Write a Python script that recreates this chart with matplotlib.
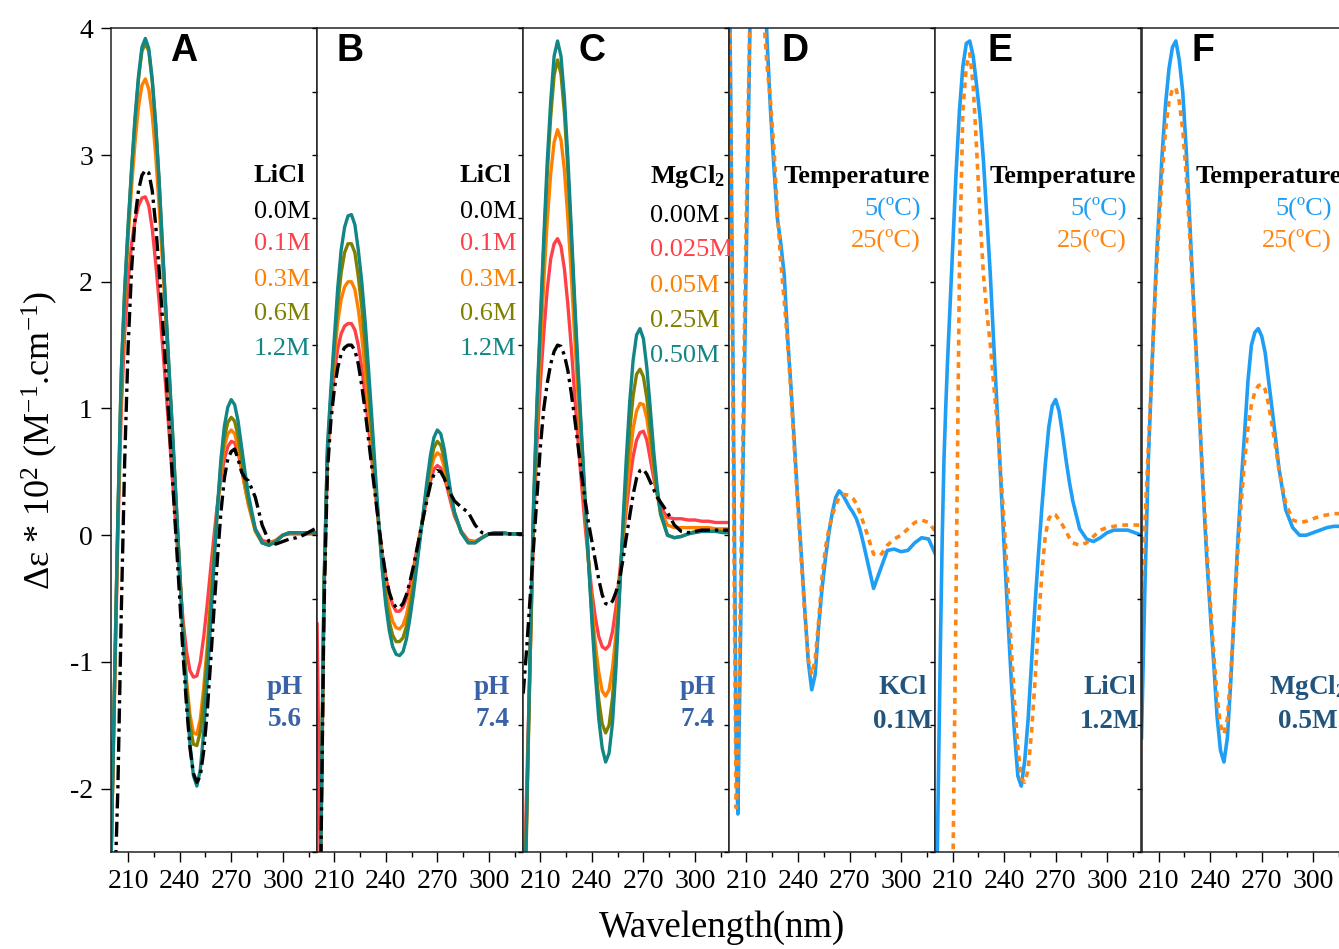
import numpy as np
import matplotlib.pyplot as plt
from matplotlib.ticker import MultipleLocator

plt.rcParams['font.family'] = 'Liberation Serif'
plt.rcParams['mathtext.fontset'] = 'custom'
plt.rcParams['mathtext.rm'] = 'Liberation Serif'
plt.rcParams['mathtext.it'] = 'Liberation Serif:italic'
plt.rcParams['mathtext.bf'] = 'Liberation Serif:bold'
plt.rcParams['axes.unicode_minus'] = False

# wavelength grids (nm)
wl = [200, 202, 204, 206, 208, 210, 212, 214, 216, 218, 220, 222, 224, 226, 228,
      230, 232, 234, 236, 238, 240, 242, 244, 246, 248, 250, 252, 254, 256, 258,
      260, 262, 264, 266, 268, 270, 272, 274, 276, 278, 280,
      284, 288, 292, 296, 300, 304, 308, 312, 316, 320]
wl_t = [200, 201, 202, 203, 204, 205, 206, 207, 208, 209, 210, 211, 212,
        214, 216, 218, 220, 222, 224, 226, 228, 230, 232, 234, 236, 238, 240,
        242, 244, 246, 248, 250, 252, 254, 256, 258, 260, 262, 264, 266, 268,
        270, 272, 274, 276, 278, 280,
        284, 288, 292, 296, 300, 304, 308, 312, 316, 320]

# panel A - LiCl, pH 5.6
a_00 = [-3.5, -2.9, -2.0, -0.6, 0.6, 1.5, 2.1, 2.5, 2.72, 2.84,
        2.88, 2.86, 2.72, 2.45, 2.1, 1.7, 1.28, 0.85, 0.4, -0.05,
        -0.5, -0.95, -1.35, -1.68, -1.88, -1.95, -1.9, -1.7, -1.4, -1.0,
        -0.58, -0.18, 0.18, 0.45, 0.6, 0.66, 0.68, 0.6, 0.5, 0.45,
        0.43, 0.3, 0.08, -0.05, -0.07, -0.05, -0.03, -0.02, 0.0, 0.03, 0.06]
a_01 = [-2.6, -1.3, 0.0, 1.0, 1.6, 2.0, 2.3, 2.48, 2.6, 2.66,
        2.67, 2.6, 2.42, 2.15, 1.85, 1.5, 1.15, 0.78, 0.4, 0.02,
        -0.35, -0.68, -0.92, -1.07, -1.12, -1.11, -1.0, -0.8, -0.55, -0.27,
        0.0, 0.25, 0.45, 0.6, 0.7, 0.74, 0.73, 0.65, 0.52, 0.38,
        0.25, 0.05, -0.04, -0.06, -0.04, 0.0, 0.01, 0.01, 0.01, 0.01, 0.01]
a_03 = [-2.6, -1.25, 0.1, 1.15, 1.85, 2.35, 2.75, 3.1, 3.38, 3.55,
        3.6, 3.52, 3.32, 3.0, 2.6, 2.15, 1.68, 1.2, 0.72, 0.22,
        -0.28, -0.75, -1.15, -1.42, -1.56, -1.57, -1.45, -1.2, -0.88, -0.5,
        -0.12, 0.22, 0.5, 0.7, 0.8, 0.83, 0.8, 0.7, 0.55, 0.38,
        0.24, 0.03, -0.06, -0.07, -0.04, 0.0, 0.02, 0.02, 0.02, 0.02, 0.02]
a_06 = [-2.6, -1.2, 0.15, 1.28, 1.93, 2.43, 2.88, 3.27, 3.6, 3.82,
        3.88, 3.82, 3.58, 3.24, 2.8, 2.26, 1.76, 1.25, 0.76, 0.24,
        -0.28, -0.78, -1.2, -1.5, -1.65, -1.66, -1.55, -1.3, -0.95, -0.55,
        -0.15, 0.22, 0.55, 0.77, 0.89, 0.93, 0.9, 0.78, 0.6, 0.42,
        0.27, 0.04, -0.06, -0.08, -0.05, 0.0, 0.02, 0.02, 0.02, 0.02, 0.02]
a_12 = [-2.6, -1.2, 0.15, 1.3, 1.95, 2.45, 2.9, 3.3, 3.62, 3.85,
        3.92, 3.84, 3.6, 3.25, 2.8, 2.28, 1.77, 1.26, 0.77, 0.25,
        -0.28, -0.8, -1.28, -1.65, -1.9, -1.98, -1.85, -1.55, -1.15, -0.7,
        -0.22, 0.22, 0.6, 0.86, 1.01, 1.07, 1.03, 0.9, 0.7, 0.5,
        0.32, 0.05, -0.06, -0.08, -0.05, 0.0, 0.02, 0.02, 0.02, 0.02, 0.02]

# panel B - LiCl, pH 7.4
b_00 = [-3.0, -2.8, -0.6, 0.5, 0.9, 1.15, 1.32, 1.43, 1.48, 1.5,
        1.5, 1.46, 1.35, 1.18, 0.98, 0.75, 0.52, 0.3, 0.07, -0.14,
        -0.32, -0.45, -0.53, -0.57, -0.57, -0.54, -0.47, -0.37, -0.25, -0.12,
        0.02, 0.15, 0.28, 0.4, 0.48, 0.51, 0.5, 0.45, 0.38, 0.32,
        0.27, 0.22, 0.18, 0.08, 0.02, 0.01, 0.01, 0.01, 0.01, 0.01, 0.01]
b_01 = [-0.7, -2.8, -0.5, 0.6, 1.0, 1.28, 1.47, 1.59, 1.65, 1.67,
        1.67, 1.62, 1.5, 1.32, 1.1, 0.85, 0.58, 0.32, 0.07, -0.15,
        -0.33, -0.46, -0.55, -0.6, -0.6, -0.57, -0.5, -0.4, -0.27, -0.12,
        0.02, 0.16, 0.3, 0.43, 0.52, 0.55, 0.53, 0.46, 0.36, 0.25,
        0.15, 0.03, -0.04, -0.05, -0.02, 0.01, 0.01, 0.01, 0.01, 0.01, 0.01]
b_03 = [-2.9, -2.6, -0.45, 0.62, 1.05, 1.4, 1.68, 1.86, 1.96, 2.0,
        2.0, 1.94, 1.78, 1.57, 1.3, 1.0, 0.68, 0.36, 0.06, -0.2,
        -0.42, -0.58, -0.68, -0.73, -0.74, -0.71, -0.63, -0.5, -0.35, -0.18,
        0.0, 0.17, 0.35, 0.5, 0.61, 0.65, 0.63, 0.54, 0.41, 0.28,
        0.17, 0.02, -0.05, -0.05, -0.02, 0.01, 0.02, 0.02, 0.01, 0.01, 0.01]
b_06 = [-2.9, -2.6, -0.42, 0.66, 1.1, 1.48, 1.82, 2.07, 2.23, 2.3,
        2.3, 2.23, 2.04, 1.8, 1.5, 1.15, 0.78, 0.4, 0.06, -0.26,
        -0.5, -0.68, -0.79, -0.84, -0.84, -0.81, -0.72, -0.58, -0.41, -0.21,
        -0.01, 0.19, 0.39, 0.56, 0.69, 0.74, 0.71, 0.61, 0.46, 0.3,
        0.18, 0.02, -0.06, -0.06, -0.02, 0.01, 0.02, 0.02, 0.01, 0.01, 0.01]
b_12 = [-3.0, -2.6, -0.4, 0.7, 1.15, 1.55, 1.95, 2.25, 2.43, 2.52,
        2.53, 2.45, 2.25, 2.0, 1.68, 1.3, 0.9, 0.48, 0.08, -0.28,
        -0.55, -0.75, -0.88, -0.94, -0.95, -0.92, -0.82, -0.66, -0.47, -0.25,
        -0.03, 0.2, 0.43, 0.63, 0.77, 0.83, 0.8, 0.68, 0.5, 0.32,
        0.18, 0.02, -0.06, -0.06, -0.02, 0.01, 0.02, 0.02, 0.01, 0.01, 0.01]

# panel C - MgCl2, pH 7.4
c_000 = [-1.25, -0.9, -0.5, -0.1, 0.3, 0.7, 1.0, 1.2, 1.35, 1.45,
         1.5, 1.49, 1.42, 1.3, 1.12, 0.92, 0.7, 0.48, 0.28, 0.1,
         -0.05, -0.2, -0.35, -0.47, -0.54, -0.55, -0.52, -0.45, -0.35, -0.2,
         -0.02, 0.15, 0.32, 0.45, 0.51, 0.52, 0.48, 0.42, 0.36, 0.3,
         0.26, 0.18, 0.08, 0.03, 0.02, 0.03, 0.04, 0.04, 0.04, 0.04, 0.04]
c_025 = [-3.0, -2.0, -1.0, 0.05, 0.72, 1.2, 1.6, 1.94, 2.18, 2.3,
         2.34, 2.28, 2.1, 1.82, 1.48, 1.1, 0.74, 0.4, 0.08, -0.2,
         -0.45, -0.65, -0.8, -0.88, -0.9, -0.87, -0.76, -0.57, -0.32, -0.05,
         0.2, 0.43, 0.62, 0.75, 0.81, 0.82, 0.75, 0.6, 0.45, 0.32,
         0.22, 0.14, 0.13, 0.13, 0.12, 0.12, 0.11, 0.11, 0.1, 0.1, 0.1]
c_05 = [-3.3, -2.2, -1.0, 0.15, 0.9, 1.45, 2.0, 2.48, 2.85, 3.1,
        3.2, 3.12, 2.88, 2.5, 2.05, 1.56, 1.08, 0.63, 0.2, -0.2,
        -0.56, -0.86, -1.08, -1.23, -1.27, -1.22, -1.05, -0.78, -0.42, -0.05,
        0.3, 0.6, 0.84, 0.98, 1.04, 1.03, 0.92, 0.73, 0.52, 0.33,
        0.19, 0.08, 0.06, 0.06, 0.06, 0.06, 0.06, 0.06, 0.05, 0.05, 0.05]
c_25 = [-3.5, -2.3, -1.0, 0.2, 1.0, 1.65, 2.28, 2.85, 3.3, 3.63,
        3.75, 3.64, 3.33, 2.88, 2.35, 1.78, 1.24, 0.75, 0.27, -0.2,
        -0.63, -1.0, -1.3, -1.49, -1.56, -1.5, -1.28, -0.92, -0.46, 0.02,
        0.45, 0.82, 1.1, 1.27, 1.31, 1.25, 1.08, 0.83, 0.57, 0.34,
        0.16, 0.0, -0.02, -0.01, 0.01, 0.03, 0.03, 0.03, 0.03, 0.03, 0.03]
c_50 = [-3.5, -2.2, -0.9, 0.25, 1.05, 1.7, 2.35, 2.95, 3.42, 3.78,
        3.9, 3.78, 3.45, 2.98, 2.42, 1.85, 1.3, 0.8, 0.3, -0.2,
        -0.68, -1.1, -1.45, -1.68, -1.79, -1.72, -1.48, -1.05, -0.5, 0.08,
        0.6, 1.05, 1.38, 1.58, 1.63, 1.55, 1.32, 1.0, 0.66, 0.38,
        0.18, 0.0, -0.02, -0.01, 0.01, 0.02, 0.03, 0.03, 0.03, 0.02, 0.02]

# panels D-F - temperature (5 C solid, 25 C dotted)
d_5 = [4.6, 3.2, 1.6, 0.0, -1.7, -2.2, -1.3, -0.35, 0.55, 1.45, 2.3, 3.15, 4.0,
       5.0, 5.4, 5.3, 4.6, 3.9, 3.35, 2.9, 2.5, 2.3, 2.05, 1.55, 1.15, 0.7, 0.25,
       -0.17, -0.6, -1.0, -1.22, -1.1, -0.72, -0.42, -0.18, 0.02, 0.18, 0.3, 0.35,
       0.32, 0.27, 0.22, 0.18, 0.13, 0.05, -0.06, -0.18,
       -0.42, -0.27, -0.12, -0.11, -0.13, -0.12, -0.06, -0.02, -0.03, -0.15]
d_25 = [4.6, 3.0, 1.2, -0.6, -2.15, -1.9, -0.9, 0.0, 0.9, 1.8, 2.6, 3.4, 4.1,
        5.0, 5.4, 5.1, 4.1, 3.7, 3.42, 3.05, 2.55, 2.15, 1.85, 1.5, 1.1, 0.65, 0.2,
        -0.22, -0.63, -0.98, -1.1, -0.98, -0.68, -0.33, -0.1, 0.05, 0.16, 0.24, 0.3,
        0.32, 0.32, 0.31, 0.29, 0.25, 0.18, 0.1, 0.02,
        -0.15, -0.16, -0.08, -0.03, 0.0, 0.05, 0.1, 0.12, 0.1, 0.03]
e_5 = [-3.5, -2.6, -1.7, -0.8, 0.0, 0.6, 1.0, 1.35, 1.65, 1.95, 2.25, 2.55, 2.85,
       3.35, 3.7, 3.88, 3.9, 3.78, 3.55, 3.3, 2.95, 2.5, 2.05, 1.5, 0.98, 0.45, -0.08,
       -0.6, -1.1, -1.55, -1.9, -1.98, -1.78, -1.45, -1.0, -0.55, -0.15, 0.22, 0.56,
       0.85, 1.02, 1.07, 0.98, 0.8, 0.6, 0.42, 0.27,
       0.05, -0.03, -0.05, -0.02, 0.02, 0.04, 0.04, 0.04, 0.02, 0.0]
e_25 = [-4.5, -4.5, -4.5, -4.5, -4.5, -4.5, -4.5, -4.5, -4.5, -4.0, -2.9, -1.7, -0.5,
        2.1, 3.35, 3.7, 3.8, 3.55, 3.05, 2.5, 2.05, 1.75, 1.5, 1.18, 0.88, 0.5, 0.1,
        -0.35, -0.85, -1.3, -1.68, -1.92, -1.95, -1.85, -1.55, -1.15, -0.7, -0.3, 0.0,
        0.13, 0.17, 0.16, 0.12, 0.08, 0.03, -0.02, -0.06,
        -0.08, -0.06, -0.01, 0.04, 0.06, 0.07, 0.08, 0.08, 0.08, 0.08]
f_5 = [-1.6, -1.0, -0.4, 0.1, 0.6, 0.95, 1.3, 1.62, 1.95, 2.25, 2.5, 2.75, 3.0,
       3.4, 3.68, 3.85, 3.9, 3.75, 3.5, 3.05, 2.5, 1.93, 1.4, 0.88, 0.33, -0.18, -0.6,
       -1.0, -1.43, -1.7, -1.79, -1.6, -1.15, -0.6, -0.07, 0.4, 0.8, 1.22, 1.5,
       1.6, 1.63, 1.57, 1.44, 1.22, 1.0, 0.77, 0.53,
       0.2, 0.06, 0.0, 0.0, 0.02, 0.04, 0.06, 0.07, 0.07, 0.07]
f_25 = [-0.5, -0.2, 0.1, 0.4, 0.7, 1.0, 1.3, 1.6, 1.9, 2.15, 2.4, 2.62, 2.85,
        3.2, 3.42, 3.52, 3.53, 3.42, 3.2, 2.85, 2.38, 1.88, 1.38, 0.88, 0.38, -0.1, -0.52,
        -0.92, -1.28, -1.5, -1.57, -1.45, -1.08, -0.62, -0.15, 0.25, 0.58, 0.85, 1.03,
        1.13, 1.18, 1.19, 1.15, 1.03, 0.87, 0.7, 0.52,
        0.25, 0.12, 0.1, 0.11, 0.13, 0.15, 0.16, 0.17, 0.17, 0.17]

salt_colors = ['black', '#FF4048', '#FF8000', '#808000', '#128585']
blue = '#1E9EF5'
orange = '#FF8614'
ph_color = '#3A62A6'
cond_color = '#22557E'

W, H = 1339, 949
fig = plt.figure(figsize=(W / 100, H / 100), dpi=100)


def px(x, y):
    return x / W, 1 - y / H


pw = 206.1
axes = []
for i in range(6):
    x0 = 111 + i * pw
    ax = fig.add_axes([x0 / W, 97 / H, pw / W, 823.7 / H])
    ax.set_xlim(200, 320)
    ax.set_ylim(-2.5, 4)
    ax.xaxis.set_major_locator(MultipleLocator(30))
    ax.xaxis.set_minor_locator(MultipleLocator(15))
    ax.yaxis.set_major_locator(MultipleLocator(1))
    ax.yaxis.set_minor_locator(MultipleLocator(0.5))
    ax.tick_params(axis='x', which='major', direction='out', length=7, width=1,
                   labelsize=20, pad=5)
    ax.tick_params(axis='x', which='minor', direction='out', length=3.6, width=1)
    if i == 0:
        ax.tick_params(axis='y', which='major', direction='out', length=7, width=1,
                       labelsize=20, pad=6)
        ax.tick_params(axis='y', which='minor', length=0)
    else:
        ax.tick_params(axis='y', which='both', direction='out', length=3.6, width=1,
                       labelleft=False)
    for sp in ax.spines.values():
        sp.set_linewidth(1.1)
        sp.set_color('#222222')
    axes.append(ax)

salt_sets = [
    [a_00, a_01, a_03, a_06, a_12],
    [b_00, b_01, b_03, b_06, b_12],
    [c_000, c_025, c_05, c_25, c_50],
]
for ax, series in zip(axes[:3], salt_sets):
    for y, col in zip(series[1:], salt_colors[1:]):
        ax.plot(wl, y, color=col, lw=2.4, solid_joinstyle='round')
    ax.plot(wl, series[0], color='black', lw=2.4, linestyle=(0, (4.5, 1.5, 1, 1.5)))

temp_sets = [(d_5, d_25), (e_5, e_25), (f_5, f_25)]
for ax, (cold, warm) in zip(axes[3:], temp_sets):
    ax.plot(wl_t, cold, color=blue, lw=2.6, solid_joinstyle='round')
    ax.plot(wl_t, warm, color=orange, lw=2.6, linestyle=(0, (1.6, 1.5)))

# panel letters
letters = ['A', 'B', 'C', 'D', 'E', 'F']
letter_x = [184, 350, 592, 795, 1000, 1203]
for s, x in zip(letters, letter_x):
    fig.text(*px(x, 51), s, ha='center', va='center', fontsize=27,
             fontweight='bold', family='Liberation Sans')

# salt labels
salt_titles = ['LiCl', 'LiCl', r'MgCl$_\mathbf{2}$']
salt_labels = [['0.0M', '0.1M', '0.3M', '0.6M', '1.2M'],
               ['0.0M', '0.1M', '0.3M', '0.6M', '1.2M'],
               ['0.00M', '0.025M', '0.05M', '0.25M', '0.50M']]
salt_x = [254, 460, 650]
label_y = [[212, 244, 280, 314, 349], [212, 244, 280, 314, 349], [216, 250, 286, 321, 356]]
for t, labs, x, ys in zip(salt_titles, salt_labels, salt_x, label_y):
    fig.text(*px(x, 176), t, ha='left', va='center', fontsize=19, fontweight='bold')
    for lab, col, y in zip(labs, salt_colors, ys):
        fig.text(*px(x, y), lab, ha='left', va='center', fontsize=19, color=col)

ph_vals = ['5.6', '7.4', '7.4']
ph_x = [285, 492, 698]
for v, x in zip(ph_vals, ph_x):
    fig.text(*px(x, 688), 'pH', ha='center', va='center', fontsize=19.5,
             fontweight='bold', color=ph_color)
    fig.text(*px(x, 720), v, ha='center', va='center', fontsize=19.5,
             fontweight='bold', color=ph_color)

# temperature labels
temp_left = [784, 990, 1196]
temp_right = [921, 1127, 1332]
for xl, xr in zip(temp_left, temp_right):
    fig.text(*px(xl, 176), 'Temperature', ha='left', va='center', fontsize=19,
             fontweight='bold')
    fig.text(*px(xr, 208), '5(ºC)', ha='right', va='center', fontsize=19, color=blue)
    fig.text(*px(xr, 240), '25(ºC)', ha='right', va='center', fontsize=19, color=orange)

cond_salt = ['KCl', 'LiCl', r'MgCl$_\mathbf{2}$']
cond_conc = ['0.1M', '1.2M', '0.5M']
cond_x = [903, 1110, 1308]
for s, c, x in zip(cond_salt, cond_conc, cond_x):
    fig.text(*px(x, 688), s, ha='center', va='center', fontsize=19.5,
             fontweight='bold', color=cond_color)
    fig.text(*px(x, 721), c, ha='center', va='center', fontsize=19.5,
             fontweight='bold', color=cond_color)

fig.text(*px(722, 928), 'Wavelength(nm)', ha='center', va='center', fontsize=26.5)
fig.text(*px(40, 440), r'Δε * 10$^{2}$ (M$^{-1}$.cm$^{-1}$)', ha='center',
         va='center', rotation=90, fontsize=26)

fig.savefig('out.png', dpi=100)
